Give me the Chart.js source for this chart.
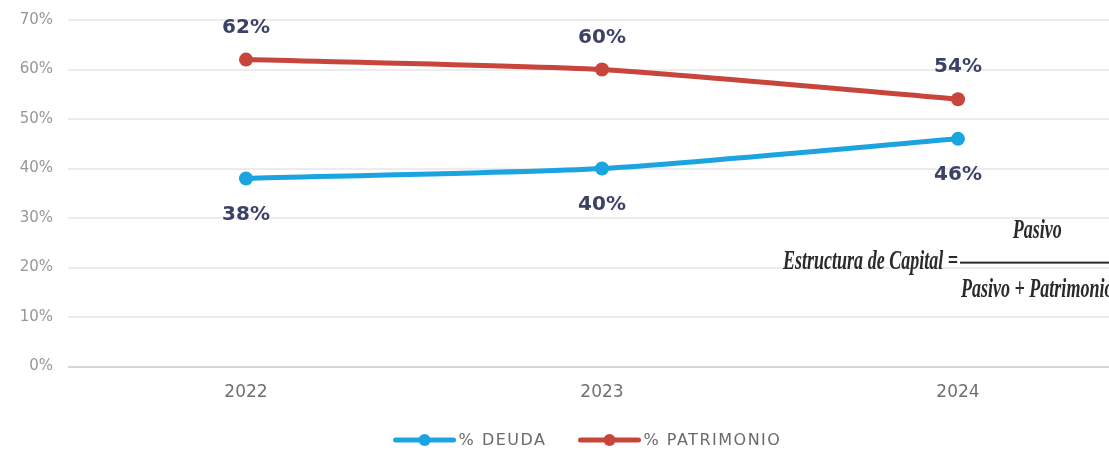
<!DOCTYPE html>
<html>
<head>
<meta charset="utf-8">
<script src="https://cdn.jsdelivr.net/npm/chart.js@4.4.1/dist/chart.umd.min.js"></script>
<style>
  html, body { margin: 0; padding: 0; background: #ffffff; overflow: hidden; }
  #wrap { position: relative; width: 1175px; height: 455px; }
</style>
</head>
<body>
<div id="wrap"><canvas id="chart"></canvas></div>
<script>
// Capital structure: share of debt vs. equity per year
const years = ['2022', '2023', '2024'];
const deuda = [38, 40, 46];
const patrimonio = [62, 60, 54];
const seriesNames = ['% DEUDA', '% PATRIMONIO'];
const yMax = 70;
const yStep = 10;

const BLUE = '#1ba4df';
const RED = '#c8453c';
const LABEL_NAVY = '#3c4266';

// Value labels above / below each point
const valueLabels = {
  id: 'valueLabels',
  afterDatasetsDraw(chart) {
    const ctx = chart.ctx;
    ctx.save();
    ctx.font = 'bold 20px "DejaVu Sans"';
    ctx.fillStyle = LABEL_NAVY;
    ctx.textAlign = 'center';
    ctx.textBaseline = 'middle';
    chart.data.datasets.forEach((ds, i) => {
      const meta = chart.getDatasetMeta(i);
      meta.data.forEach((pt, j) => {
        const dy = ds.labelSide === 'above' ? -32 : 36;
        ctx.fillText(ds.data[j] + '%', pt.x, pt.y + dy);
      });
    });
    ctx.restore();
  }
};

// Formula annotation on the right side of the plot
const formula = {
  id: 'formula',
  afterDraw(chart) {
    const ctx = chart.ctx;
    const xs = chart.scales.x, ys = chart.scales.y;
    const barX = xs.getPixelForValue(2) + 2;
    const barY = ys.getPixelForValue(21);
    ctx.save();
    ctx.font = 'italic bold 28px "Liberation Serif"';
    const sx = 175 / ctx.measureText('Estructura de Capital =').width;
    ctx.fillStyle = '#2a2a2a';
    ctx.textBaseline = 'alphabetic';

    const drawScaled = (txt, x, y, align) => {
      const w = ctx.measureText(txt).width * sx;
      let left = x;
      if (align === 'right') left = x - w;
      if (align === 'center') left = x - w / 2;
      ctx.save();
      ctx.translate(left, y);
      ctx.scale(sx, 1);
      ctx.textAlign = 'left';
      ctx.fillText(txt, 0, 0);
      ctx.restore();
      return w;
    };

    drawScaled('Estructura de Capital =', barX - 2, barY + 6, 'right');
    const denomW = ctx.measureText('Pasivo + Patrimonio').width * sx;
    const barW = denomW + 2;
    ctx.fillRect(barX, barY - 1, barW, 2);
    drawScaled('Pasivo', barX + barW / 2, barY - 25, 'center');
    drawScaled('Pasivo + Patrimonio', barX + 1, barY + 34, 'left');
    ctx.restore();
  }
};

// Legend: line sample with a dot, centred under the chart
const lineLegend = {
  id: 'lineLegend',
  afterDraw(chart) {
    const ctx = chart.ctx;
    ctx.save();
    ctx.font = '16px "DejaVu Sans"';
    ctx.letterSpacing = '1.5px';
    const sampleW = 62, gapText = 3, gapItem = 32;
    const items = chart.data.datasets.map(ds => ({
      text: ds.label, color: ds.borderColor,
      w: sampleW + gapText + ctx.measureText(ds.label).width
    }));
    const total = items.reduce((s, it) => s + it.w, 0) + gapItem * (items.length - 1);
    let x = chart.width / 2 - total / 2;
    const y = 440;
    items.forEach(it => {
      ctx.strokeStyle = it.color;
      ctx.lineWidth = 5;
      ctx.lineCap = 'round';
      ctx.beginPath();
      ctx.moveTo(x + 2, y);
      ctx.lineTo(x + sampleW - 2, y);
      ctx.stroke();
      ctx.fillStyle = it.color;
      ctx.beginPath();
      ctx.arc(x + sampleW / 2, y, 6, 0, Math.PI * 2);
      ctx.fill();
      ctx.fillStyle = '#6a6a6a';
      ctx.textAlign = 'left';
      ctx.textBaseline = 'middle';
      ctx.fillText(it.text, x + sampleW + gapText, y + 1);
      x += it.w + gapItem;
    });
    ctx.restore();
  }
};

new Chart(document.getElementById('chart'), {
  type: 'line',
  data: {
    labels: years,
    datasets: [
      {
        label: seriesNames[0], data: deuda, labelSide: 'below',
        borderColor: BLUE, backgroundColor: BLUE
      },
      {
        label: seriesNames[1], data: patrimonio, labelSide: 'above',
        borderColor: RED, backgroundColor: RED
      }
    ]
  },
  options: {
    responsive: true,
    maintainAspectRatio: false,
    animation: false,
    layout: { padding: { left: 1, right: 39, top: 20, bottom: 36 } },
    elements: {
      line: { borderWidth: 5, tension: 0.2, fill: false },
      point: { radius: 7, hoverRadius: 7, borderWidth: 0 }
    },
    plugins: {
      legend: { display: false },
      tooltip: { enabled: false }
    },
    scales: {
      x: {
        offset: true,
        grid: { display: false, drawTicks: false },
        border: { display: false },
        ticks: {
          padding: 16,
          color: '#707070',
          font: { family: '"DejaVu Sans"', size: 17 }
        }
      },
      y: {
        min: 0, max: yMax,
        afterFit(scale) {
          scale.width = 67;
          scale.paddingTop = 0;
          scale.paddingBottom = 0;
        },
        grid: {
          drawTicks: false,
          lineWidth: 2,
          color: c => (c.tick && c.tick.value === 0) ? '#d6d6d6' : '#ececec'
        },
        border: { display: false },
        ticks: {
          stepSize: yStep,
          padding: 15,
          color: '#979797',
          font: { family: '"DejaVu Sans"', size: 15 },
          callback: v => v + '%'
        }
      }
    }
  },
  plugins: [valueLabels, formula, lineLegend]
});
</script>
</body>
</html>
